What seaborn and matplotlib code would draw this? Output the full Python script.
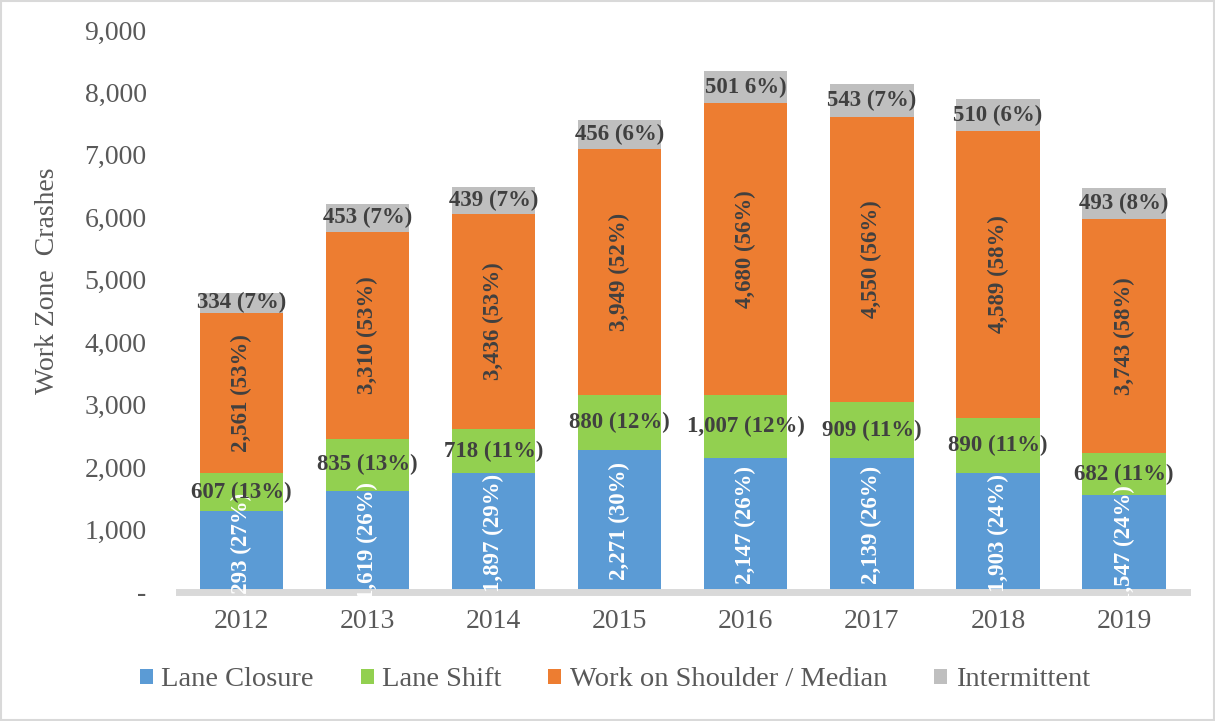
import numpy as np
import pandas as pd
import seaborn as sns
import matplotlib.pyplot as plt
from matplotlib.patches import Patch, Rectangle

years = ["2012", "2013", "2014", "2015", "2016", "2017", "2018", "2019"]
lane_closure = [1293, 1619, 1897, 2271, 2147, 2139, 1903, 1547]
lane_closure_pct = [27, 26, 29, 30, 26, 26, 24, 24]
lane_shift = [607, 835, 718, 880, 1007, 909, 890, 682]
lane_shift_pct = [13, 13, 11, 12, 12, 11, 11, 11]
shoulder = [2561, 3310, 3436, 3949, 4680, 4550, 4589, 3743]
shoulder_pct = [53, 53, 53, 52, 56, 56, 58, 58]
intermittent = [334, 453, 439, 456, 501, 543, 510, 493]
intermittent_labels = ["334 (7%)", "453 (7%)", "439 (7%)", "456 (6%)",
                       "501 6%)", "543 (7%)", "510 (6%)", "493 (8%)"]
series_names = ["Lane Closure", "Lane Shift", "Work on Shoulder / Median", "Intermittent"]
yticks = [0, 1000, 2000, 3000, 4000, 5000, 6000, 7000, 8000, 9000]

BLUE = "#5B9BD5"
GREEN = "#92D050"
ORANGE = "#ED7D31"
GRAY = "#BFBFBF"
DARK = "#404040"
TICK = "#595959"

sns.set_theme(style="white")
plt.rcParams['font.family'] = ['Liberation Serif', 'DejaVu Serif']

df = pd.DataFrame({
    "Year": years,
    "lc": lane_closure,
    "ls": lane_shift,
    "ws": shoulder,
    "it": intermittent,
})
df["c1"] = df["lc"]
df["c2"] = df["c1"] + df["ls"]
df["c3"] = df["c2"] + df["ws"]
df["c4"] = df["c3"] + df["it"]

fig = plt.figure(figsize=(12.15, 7.21), dpi=100)
ax = fig.add_axes([0.147, 0.179, 0.830, 0.7795])

for col, color in [("c4", GRAY), ("c3", ORANGE), ("c2", GREEN), ("c1", BLUE)]:
    sns.barplot(data=df, x="Year", y=col, order=years, color=color, saturation=1,
                width=0.66, linewidth=0, errorbar=None, ax=ax)

ax.set_ylim(0, 9000)
ax.set_xlim(-0.5, len(years) - 0.5)
ax.set_yticks(yticks)
ax.set_yticklabels(["-" if v == 0 else f"{v:,}" for v in yticks])
ax.tick_params(axis="y", length=0, pad=23, labelsize=20, labelcolor=TICK)
ax.tick_params(axis="x", length=0, pad=12, labelsize=20, labelcolor=TICK)
ax.set_xlabel("")
ax.set_ylabel("Work Zone  Crashes", fontsize=20, color=TICK)
ax.yaxis.set_label_coords(-0.118, 0.553)

for s in ["left", "right", "top"]:
    ax.spines[s].set_visible(False)
ax.spines["bottom"].set_color("#D9D9D9")
ax.spines["bottom"].set_linewidth(5)

fs = 16.5
for i in range(len(years)):
    c1, c2, c3, c4 = df.loc[i, ["c1", "c2", "c3", "c4"]]
    ax.text(i, c1 / 2, f"{lane_closure[i]:,} ({lane_closure_pct[i]}%)", rotation=90,
            ha="center", va="center", color="white", fontsize=fs, fontweight="bold", zorder=5)
    ax.text(i, (c1 + c2) / 2, f"{lane_shift[i]:,} ({lane_shift_pct[i]}%)",
            ha="center", va="center", color=DARK, fontsize=fs, fontweight="bold", zorder=6)
    ax.text(i, (c2 + c3) / 2, f"{shoulder[i]:,} ({shoulder_pct[i]}%)", rotation=90,
            ha="center", va="center", color=DARK, fontsize=fs, fontweight="bold", zorder=5)
    ax.text(i, (c3 + c4) / 2, intermittent_labels[i],
            ha="center", va="center", color=DARK, fontsize=fs, fontweight="bold", zorder=6)

handles = [Patch(facecolor=c, edgecolor="none") for c in [BLUE, GREEN, ORANGE, GRAY]]
leg = fig.legend(handles, series_names, loc="center", bbox_to_anchor=(0.506, 0.057),
                 ncol=4, frameon=False, fontsize=20.5, handlelength=0.45, handleheight=0.45,
                 handletextpad=0.3, columnspacing=1.65, labelcolor=TICK)

fig.patches.append(Rectangle((0.001, 0.001), 0.998, 0.998, transform=fig.transFigure,
                             fill=False, edgecolor="#D9D9D9", linewidth=1.5))

fig.savefig("out.png", dpi=100)
